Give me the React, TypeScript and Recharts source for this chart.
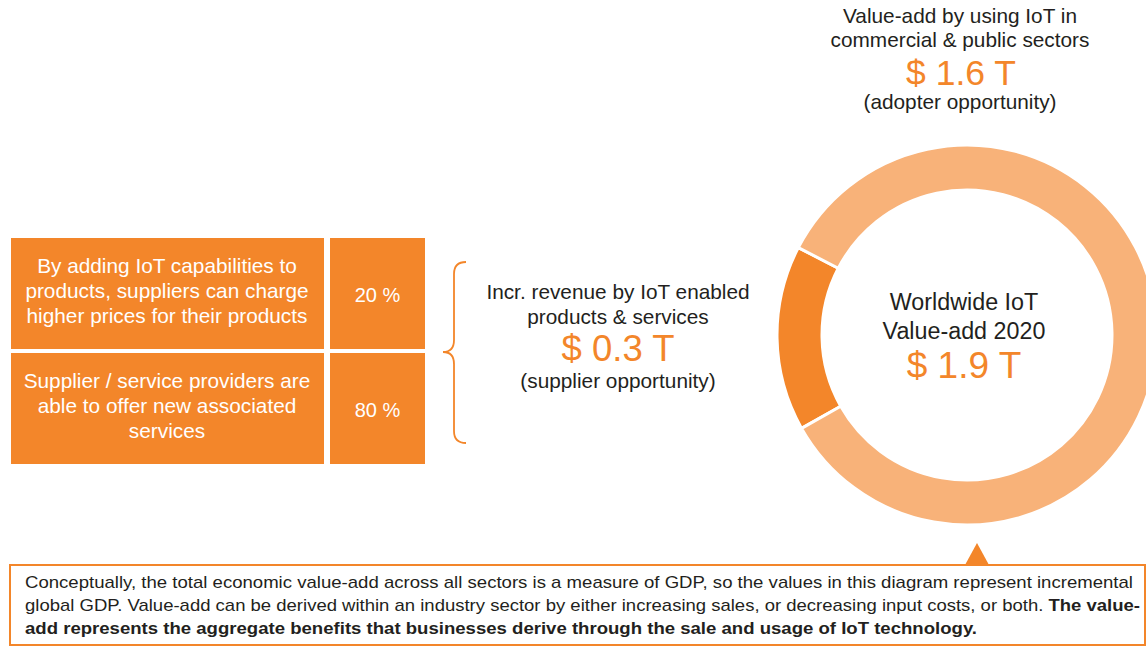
import { PieChart, Pie, Cell } from "recharts";

const ORANGE = "#F3862A";
const LIGHT_ORANGE = "#F8B279";
const TEXT = "#231F20";

// donut: supplier vs adopter value-add (trillion $)
const sliceNames = ["Supplier opportunity", "Adopter opportunity"];
const sliceValues = [0.3, 1.6];
const sliceColors = [ORANGE, LIGHT_ORANGE];

const centerLines = ["Worldwide IoT", "Value-add 2020"];
const centerValue = "$ 1.9 T";

const adopterLines = ["Value-add by using IoT in", "commercial & public sectors"];
const adopterValue = "$ 1.6 T";
const adopterNote = "(adopter opportunity)";

const supplierLines = ["Incr. revenue by IoT enabled", "products & services"];
const supplierValue = "$ 0.3 T";
const supplierNote = "(supplier opportunity)";

const boxTexts = [
  ["By adding IoT capabilities to", "products, suppliers can charge", "higher prices for their products"],
  ["Supplier / service providers are", "able to offer new associated", "services"],
];
const boxShares = ["20 %", "80 %"];

const noteLine1 =
  "Conceptually, the total economic value-add across all sectors is a measure of GDP, so the values in this diagram represent incremental";
const noteLine2a =
  "global GDP. Value-add can be derived within an industry sector by either increasing sales, or decreasing input costs, or both. ";
const noteLine2b = "The value-";
const noteLine3 =
  "add represents the aggregate benefits that businesses derive through the sale and usage of IoT technology.";

const pieData = sliceNames.map((name, i) => ({ name, value: sliceValues[i] }));

const W = 1146;
const H = 647;
const FONT = "'Liberation Sans', Arial, Helvetica, sans-serif";
const NARROW = "'Liberation Sans Narrow', 'Arial Narrow', 'Liberation Sans', sans-serif";

export default function App() {
  const rowTops = [238, 353];
  return (
    <div style={{ position: "absolute", left: 0, top: 0, width: W, height: H, background: "#fff", overflow: "hidden" }}>
      <PieChart width={W} height={H} margin={{ top: 0, right: 0, bottom: 0, left: 0 }}>
        <Pie
          data={pieData}
          dataKey="value"
          nameKey="name"
          cx={967}
          cy={335}
          innerRadius={145}
          outerRadius={190}
          startAngle={152.6}
          endAngle={512.6}
          stroke="#fff"
          strokeWidth={3}
          isAnimationActive={false}
        >
          {pieData.map((_, i) => (
            <Cell key={`cell-${i}`} fill={sliceColors[i]} />
          ))}
        </Pie>
      </PieChart>

      <svg width={W} height={H} style={{ position: "absolute", left: 0, top: 0, pointerEvents: "none" }}>
        {/* center of donut */}
        <g fontFamily={FONT} textAnchor="middle">
          {centerLines.map((t, i) => (
            <text key={t} x={964} y={310 + i * 29} fontSize={23.3} fill={TEXT}>
              {t}
            </text>
          ))}
          <text x={964} y={378} fontSize={37} fill={ORANGE}>
            {centerValue}
          </text>

          {/* adopter label at top */}
          {adopterLines.map((t, i) => (
            <text key={t} x={960} y={23 + i * 24} fontSize={20.8} fill={TEXT}>
              {t}
            </text>
          ))}
          <text x={961} y={85} fontSize={35.5} fill={ORANGE}>
            {adopterValue}
          </text>
          <text x={960} y={109} fontSize={20.8} fill={TEXT}>
            {adopterNote}
          </text>

          {/* supplier label */}
          {supplierLines.map((t, i) => (
            <text key={t} x={618} y={299 + i * 25} fontSize={20.8} fill={TEXT}>
              {t}
            </text>
          ))}
          <text x={618} y={361} fontSize={36.5} fill={ORANGE}>
            {supplierValue}
          </text>
          <text x={618} y={388} fontSize={20.8} fill={TEXT}>
            {supplierNote}
          </text>
        </g>

        {/* boxes */}
        {boxTexts.map((lines, r) => (
          <g key={r} fontFamily={FONT} textAnchor="middle" fill="#fff">
            <rect x={11} y={rowTops[r]} width={313} height={111} fill={ORANGE} />
            <rect x={330} y={rowTops[r]} width={95} height={111} fill={ORANGE} />
            {lines.map((t, i) => (
              <text key={t} x={167} y={rowTops[r] + 35 + i * 25} fontSize={20.8} fill="#fff">
                {t}
              </text>
            ))}
            <text x={377.5} y={rowTops[r] + 64} fontSize={20} fill="#fff">
              {boxShares[r]}
            </text>
          </g>
        ))}

        {/* curly bracket */}
        <path
          d="M466,262 Q454,262 454,274 L454,340 Q454,352 443,352 Q454,352 454,364 L454,431 Q454,443 466,443"
          fill="none"
          stroke={ORANGE}
          strokeWidth={1.8}
        />

        {/* callout box */}
        <rect x={10} y={565} width={1135} height={80} fill="#fff" stroke={ORANGE} strokeWidth={2} />
        <path d="M977,543 L989,565 L965,565 Z" fill={ORANGE} />
        <g fontFamily={NARROW} fontSize={17} fill={TEXT}>
          <text x={25} y={588} textLength={1108} lengthAdjust="spacingAndGlyphs">
            {noteLine1}
          </text>
          <text x={25} y={611} textLength={1115} lengthAdjust="spacingAndGlyphs">
            {noteLine2a}
            <tspan fontWeight="bold">{noteLine2b}</tspan>
          </text>
          <text x={25} y={634} fontWeight="bold" textLength={952} lengthAdjust="spacingAndGlyphs">
            {noteLine3}
          </text>
        </g>
      </svg>
    </div>
  );
}
